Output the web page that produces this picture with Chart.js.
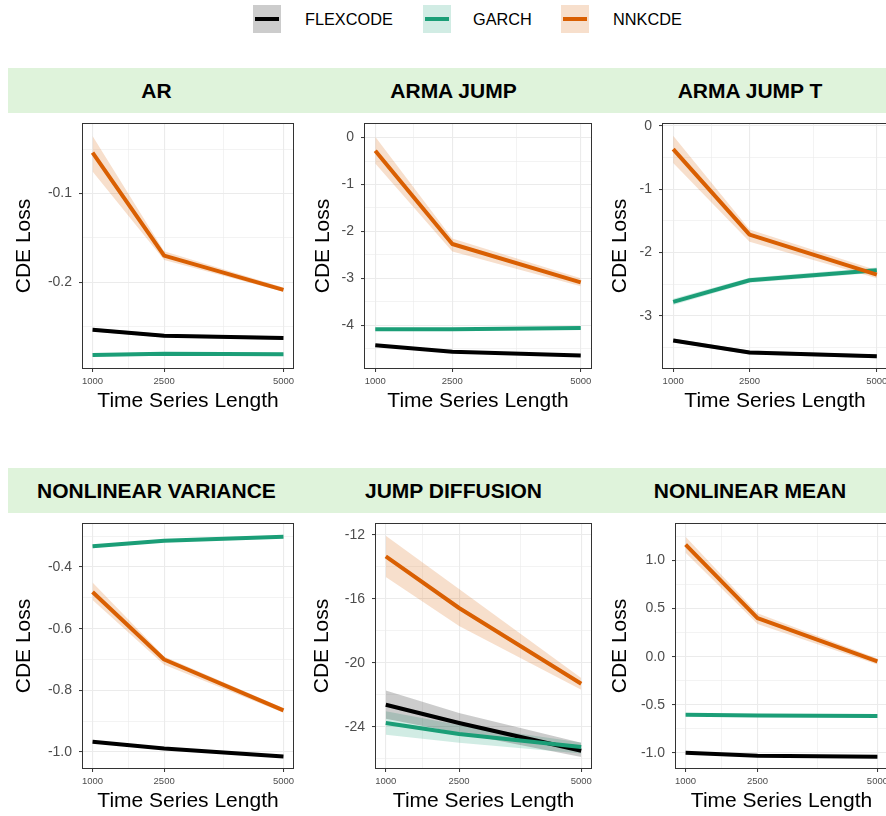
<!DOCTYPE html>
<html>
<head>
<meta charset="utf-8">
<script src="https://cdn.jsdelivr.net/npm/chart.js@4"></script>
<style>
html, body { margin: 0; padding: 0; background: #fff; overflow: hidden; width: 886px; height: 816px; }
body { position: relative; font-family: "Liberation Sans", Arial, sans-serif; }
.strip { position: absolute; left: 8px; width: 878px; height: 45px; background: #dff3db; }
.strip span { position: absolute; top: 0; width: 270px; text-align: center; line-height: 45px; font-weight: bold; font-size: 21px; color: #000; white-space: nowrap; }
canvas { position: absolute; }
.key { position: absolute; top: 5px; width: 28px; height: 28px; }
.key i { position: absolute; left: 2px; right: 2px; top: 12px; height: 4px; }
.lab { position: absolute; top: 5px; line-height: 28px; font-size: 16.3px; color: #000; }
</style>
</head>
<body>
<div id="legend"></div>
<div class="strip" id="strip1" style="top:68px"></div>
<div class="strip" id="strip2" style="top:468px"></div>
<script>
const lengths = [1000, 2500, 5000];
const methods = ['FLEXCODE', 'GARCH', 'NNKCDE'];
const panelTitles = ['AR', 'ARMA JUMP', 'ARMA JUMP T', 'NONLINEAR VARIANCE', 'JUMP DIFFUSION', 'NONLINEAR MEAN'];

// rows: FLEXCODE, GARCH, NNKCDE
const arMean = [[-0.2538, -0.2605, -0.2630], [-0.2823, -0.2808, -0.2816], [-0.0538, -0.1700, -0.2087]];
const arLow  = [[-0.2558, -0.2625, -0.2650], [-0.2838, -0.2823, -0.2831], [-0.0750, -0.1750, -0.2110]];
const arHigh = [[-0.2518, -0.2585, -0.2610], [-0.2808, -0.2793, -0.2801], [-0.0350, -0.1650, -0.2060]];
const arTicks = [-0.2, -0.1];
const arLabels = ['-0.2', '-0.1'];

const armaMean = [[-4.43, -4.57, -4.65], [-4.09, -4.09, -4.06], [-0.28, -2.27, -3.09]];
const armaLow  = [[-4.45, -4.59, -4.67], [-4.11, -4.11, -4.08], [-0.55, -2.43, -3.17]];
const armaHigh = [[-4.41, -4.55, -4.63], [-4.07, -4.07, -4.04], [0.02, -2.15, -3.00]];
const armaTicks = [-4, -3, -2, -1, 0];
const armaLabels = ['-4', '-3', '-2', '-1', '0'];

const armaTMean = [[-3.39, -3.58, -3.64], [-2.78, -2.44, -2.28], [-0.37, -1.72, -2.35]];
const armaTLow  = [[-3.42, -3.61, -3.67], [-2.83, -2.48, -2.32], [-0.59, -1.83, -2.41]];
const armaTHigh = [[-3.36, -3.55, -3.61], [-2.73, -2.40, -2.24], [-0.16, -1.64, -2.28]];
const armaTTicks = [-3, -2, -1, 0];
const armaTLabels = ['-3', '-2', '-1', '0'];

const nlvMean = [[-0.967, -0.989, -1.015], [-0.333, -0.315, -0.302], [-0.481, -0.700, -0.865]];
const nlvLow  = [[-0.971, -0.993, -1.019], [-0.337, -0.319, -0.306], [-0.507, -0.717, -0.873]];
const nlvHigh = [[-0.963, -0.985, -1.011], [-0.329, -0.311, -0.298], [-0.450, -0.690, -0.857]];
const nlvTicks = [-1.0, -0.8, -0.6, -0.4];
const nlvLabels = ['-1.0', '-0.8', '-0.6', '-0.4'];

const jdMean = [[-22.63, -23.77, -25.50], [-23.77, -24.46, -25.27], [-13.35, -16.58, -21.31]];
const jdLow  = [[-23.50, -24.40, -25.90], [-24.50, -25.00, -25.67], [-14.65, -17.70, -21.69]];
const jdHigh = [[-21.73, -23.15, -25.00], [-23.04, -23.90, -24.98], [-12.06, -15.40, -20.96]];
const jdTicks = [-24, -20, -16, -12];
const jdLabels = ['-24', '-20', '-16', '-12'];

const nlmMean = [[-0.997, -1.028, -1.040], [-0.604, -0.610, -0.615], [1.163, 0.400, -0.049]];
const nlmLow  = [[-1.007, -1.038, -1.050], [-0.614, -0.620, -0.625], [1.080, 0.340, -0.080]];
const nlmHigh = [[-0.987, -1.018, -1.030], [-0.594, -0.600, -0.605], [1.246, 0.450, -0.020]];
const nlmTicks = [-1.0, -0.5, 0.0, 0.5, 1.0];
const nlmLabels = ['-1.0', '-0.5', '0.0', '0.5', '1.0'];

const lineColors = ['#000000', '#1b9e77', '#d95f02'];
const bandColors = ['rgba(0,0,0,0.2)', 'rgba(27,158,119,0.2)', 'rgba(217,95,2,0.2)'];

Chart.defaults.font.family = '"Liberation Sans", Arial, sans-serif';

// plot rect [left, top, right, bottom], y title centre, y limits
const panels = [
  { mean: arMean, low: arLow, high: arHigh, ticks: arTicks, labels: arLabels, rect: [83, 124, 293, 368], titleX: 25, ylim: [-0.297, -0.0214] },
  { mean: armaMean, low: armaLow, high: armaHigh, ticks: armaTicks, labels: armaLabels, rect: [365, 124, 591, 368], titleX: 324, ylim: [-4.915, 0.29] },
  { mean: armaTMean, low: armaTLow, high: armaTHigh, ticks: armaTTicks, labels: armaTLabels, rect: [663, 124, 887, 368], titleX: 621, ylim: [-3.825, 0.027] },
  { mean: nlvMean, low: nlvLow, high: nlvHigh, ticks: nlvTicks, labels: nlvLabels, rect: [83, 524, 293, 768], titleX: 25, ylim: [-1.052, -0.2605] },
  { mean: jdMean, low: jdLow, high: jdHigh, ticks: jdTicks, labels: jdLabels, rect: [376, 524, 591, 768], titleX: 323, ylim: [-26.58, -11.33] },
  { mean: nlmMean, low: nlmLow, high: nlmHigh, ticks: nlmTicks, labels: nlmLabels, rect: [676, 524, 887, 768], titleX: 621, ylim: [-1.156, 1.378] }
];

const TP = 10, RP = 4, XH = 48;

// ggplot style minor breaks: midpoints between majors
function minorBreaks(major, min, max) {
  const out = [];
  for (let i = 0; i < major.length - 1; i++) out.push((major[i] + major[i + 1]) / 2);
  if (major.length > 1) {
    out.push(major[0] - (major[1] - major[0]) / 2);
    const n = major.length;
    out.push(major[n - 1] + (major[n - 1] - major[n - 2]) / 2);
  }
  return out.filter(v => v > min && v < max);
}

function near(list, v) { return list.some(t => Math.abs(t - v) < 1e-9); }

const frame = {
  id: 'frame',
  afterDatasetsDraw(chart) {
    const { ctx, chartArea: a } = chart;
    ctx.save();
    ctx.strokeStyle = '#333333';
    ctx.lineWidth = 1;
    ctx.strokeRect(Math.round(a.left) - 0.5, Math.round(a.top) - 0.5, Math.round(a.right - a.left) + 1, Math.round(a.bottom - a.top) + 1);
    ctx.restore();
  }
};

function pts(vals) { return vals.map((v, i) => ({ x: lengths[i], y: v })); }

function makeChart(p) {
  const cv = document.createElement('canvas');
  const left = p.titleX - 13;
  const yw = p.rect[0] - left;
  cv.width = yw + (p.rect[2] - p.rect[0]) + RP;
  cv.height = TP + (p.rect[3] - p.rect[1]) + XH;
  cv.style.left = left + 'px';
  cv.style.top = (p.rect[1] - TP) + 'px';
  document.body.appendChild(cv);

  const datasets = [];
  methods.forEach((m, k) => {
    datasets.push({ label: m + ' upper', data: pts(p.high[k]), borderWidth: 0, borderColor: 'rgba(0,0,0,0)', pointRadius: 0, fill: '+1', backgroundColor: bandColors[k], order: 10 });
    datasets.push({ label: m + ' lower', data: pts(p.low[k]), borderWidth: 0, borderColor: 'rgba(0,0,0,0)', pointRadius: 0, fill: false, order: 10 });
  });
  methods.forEach((m, k) => {
    datasets.push({ label: m, data: pts(p.mean[k]), borderColor: lineColors[k], borderWidth: 4, pointRadius: 0, fill: false, tension: 0, borderJoinStyle: 'round', order: 3 - k });
  });

  const xMinor = minorBreaks(lengths, 800, 5200);
  const xAll = lengths.concat(xMinor).sort((a, b) => a - b);
  const yMinor = minorBreaks(p.ticks, p.ylim[0], p.ylim[1]);
  const yAll = p.ticks.concat(yMinor).sort((a, b) => a - b);

  new Chart(cv, {
    type: 'line',
    data: { datasets },
    options: {
      responsive: false,
      animation: false,
      events: [],
      layout: { padding: { top: TP, right: RP, left: 0, bottom: 0 } },
      plugins: { legend: { display: false }, tooltip: { enabled: false } },
      scales: {
        x: {
          type: 'linear', min: 800, max: 5200, bounds: 'data',
          afterBuildTicks: s => { s.ticks = xAll.map(v => ({ value: v })); },
          afterFit: s => { s.height = XH; s.paddingLeft = 0; s.paddingRight = 0; },
          ticks: {
            autoSkip: false, maxRotation: 0, padding: 4, color: '#4d4d4d', font: { size: 9.5 },
            callback: v => near(lengths, v) ? String(v) : ''
          },
          grid: {
            color: '#ebebeb',
            lineWidth: c => near(xMinor, c.tick.value) ? 0.6 : 1.1,
            tickLength: 4, tickWidth: 1,
            tickColor: c => near(xMinor, c.tick.value) ? 'rgba(0,0,0,0)' : '#333333'
          },
          border: { display: false },
          title: { display: true, text: 'Time Series Length', color: '#000', font: { size: 21 }, padding: { top: 0, bottom: 2.4 } }
        },
        y: {
          type: 'linear', min: p.ylim[0], max: p.ylim[1], bounds: 'data',
          afterBuildTicks: s => { s.ticks = yAll.map(v => ({ value: v })); },
          afterFit: s => { s.width = yw; s.paddingTop = 0; s.paddingBottom = 0; },
          ticks: {
            autoSkip: false, padding: 7, color: '#4d4d4d', font: { size: 14 },
            callback: v => {
              const i = p.ticks.findIndex(t => Math.abs(t - v) < 1e-9);
              return i >= 0 ? p.labels[i] : '';
            }
          },
          grid: {
            color: '#ebebeb',
            lineWidth: c => near(yMinor, c.tick.value) ? 0.6 : 1.1,
            tickLength: 4, tickWidth: 1,
            tickColor: c => near(yMinor, c.tick.value) ? 'rgba(0,0,0,0)' : '#333333'
          },
          border: { display: false },
          title: { display: true, text: 'CDE Loss', color: '#000', font: { size: 21 }, padding: { top: 0, bottom: 0 } }
        }
      }
    },
    plugins: [frame]
  });
}

panels.forEach(makeChart);

// facet strips
const stripCentres = [156.5, 453.5, 750];
panelTitles.forEach((t, i) => {
  const s = document.createElement('span');
  s.textContent = t;
  s.style.left = (stripCentres[i % 3] - 135 - 8) + 'px';
  document.getElementById(i < 3 ? 'strip1' : 'strip2').appendChild(s);
});

// legend
const keyLefts = [253, 423, 561];
const labLefts = [305, 473, 613];
const legend = document.getElementById('legend');
methods.forEach((m, k) => {
  const key = document.createElement('div');
  key.className = 'key';
  key.style.left = keyLefts[k] + 'px';
  key.style.background = bandColors[k];
  const bar = document.createElement('i');
  bar.style.background = lineColors[k];
  key.appendChild(bar);
  legend.appendChild(key);
  const lab = document.createElement('div');
  lab.className = 'lab';
  lab.style.left = labLefts[k] + 'px';
  lab.textContent = m;
  legend.appendChild(lab);
});
</script>
</body>
</html>
